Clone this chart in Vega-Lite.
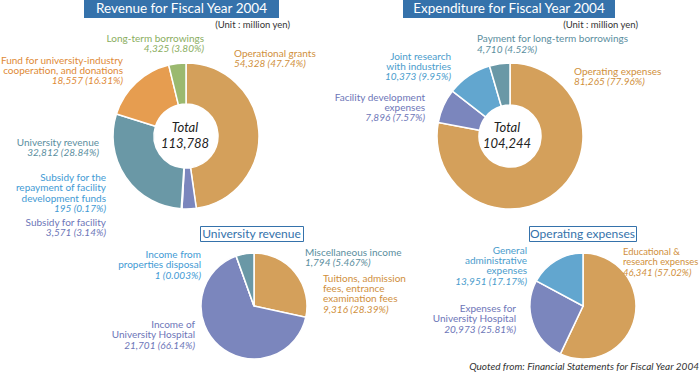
{
  "$schema": "https://vega.github.io/schema/vega-lite/v6.json",
  "padding": 0,
  "background": "white",
  "bounds": "flush",
  "spacing": 226,
  "resolve": {"scale": {"theta": "independent", "color": "independent"}},
  "config": {"view": {"stroke": null}, "font": "Lato", "text": {"font": "Lato", "fontSize": 10, "baseline": "middle"}},
  "datasets": {
    "revenue": [
      {"item": "Operational grants", "rank": 1, "value": 54328, "label": "54,328 (47.74%)"},
      {"item": "Subsidy for facility", "rank": 2, "value": 3571, "label": "3,571 (3.14%)"},
      {"item": "Subsidy for the\nrepayment of facility\ndevelopment funds", "rank": 3, "value": 195, "label": "195 (0.17%)"},
      {"item": "University revenue", "rank": 4, "value": 32812, "label": "32,812 (28.84%)"},
      {"item": "Fund for university-industry\ncooperation, and donations", "rank": 5, "value": 18557, "label": "18,557 (16.31%)"},
      {"item": "Long-term borrowings", "rank": 6, "value": 4325, "label": "4,325 (3.80%)"}
    ],
    "expenditure": [
      {"item": "Operating expenses", "rank": 1, "value": 81265, "label": "81,265 (77.96%)"},
      {"item": "Facility development\nexpenses", "rank": 2, "value": 7896, "label": "7,896 (7.57%)"},
      {"item": "Joint research\nwith industries", "rank": 3, "value": 10373, "label": "10,373 (9.95%)"},
      {"item": "Payment for long-term borrowings", "rank": 4, "value": 4710, "label": "4,710 (4.52%)"}
    ],
    "univ": [
      {"item": "Tuitions, admission\nfees, entrance\nexamination fees", "rank": 1, "value": 9316, "label": "9,316 (28.39%)"},
      {"item": "Income of\nUniversity Hospital", "rank": 2, "value": 21701, "label": "21,701 (66.14%)"},
      {"item": "Income from\nproperties disposal", "rank": 3, "value": 1, "label": "1 (0.003%)"},
      {"item": "Miscellaneous income", "rank": 4, "value": 1794, "label": "1,794 (5.467%)"}
    ],
    "opex": [
      {"item": "Educational &\nresearch expenses", "rank": 1, "value": 46341, "label": "46,341 (57.02%)"},
      {"item": "Expenses for\nUniversity Hospital", "rank": 2, "value": 20973, "label": "20,973 (25.81%)"},
      {"item": "General\nadministrative\nexpenses", "rank": 3, "value": 13951, "label": "13,951 (17.17%)"}
    ]
  },
  "vconcat": [
    {
      "vconcat": [
        {
          "concat": [
            {"width": 82, "height": 18, "data": {"values": [{}]}, "mark": {"type": "text", "text": ""}, "encoding": {}},
            {
              "width": 195, "height": 18,
              "view": {"fill": "#3572ab", "stroke": null},
              "data": {"values": [{}]},
              "layer": [
                {"mark": {"type": "text", "text": "Revenue for Fiscal Year 2004", "color": "white", "fontSize": 13.5, "align": "center"}, "encoding": {}},
                {"mark": {"type": "text", "text": "(Unit : million yen)", "color": "#333333", "fontSize": 9.5, "align": "right", "dx": 108.5, "dy": 16}, "encoding": {}}
              ]
            },
            {"width": 124, "height": 18, "data": {"values": [{}]}, "mark": {"type": "text", "text": ""}, "encoding": {}},
            {
              "width": 212, "height": 18,
              "view": {"fill": "#3572ab", "stroke": null},
              "data": {"values": [{}]},
              "layer": [
                {"mark": {"type": "text", "text": "Expenditure for Fiscal Year 2004", "color": "white", "fontSize": 13.5, "align": "center"}, "encoding": {}},
                {"mark": {"type": "text", "text": "(Unit : million yen)", "color": "#333333", "fontSize": 9.5, "align": "right", "dx": 129, "dy": 16}, "encoding": {}}
              ]
            }
          ],
          "columns": 4, "align": "each", "bounds": "flush", "spacing": 0
        },
        {
          "concat": [
            {
              "width": 368, "height": 160,
              "data": {"name": "revenue"},
              "layer": [
                {"mark": {"type": "arc", "outerRadius": 73, "innerRadius": 32, "stroke": "white", "strokeWidth": 1.5},
                 "encoding": {"theta": {"field": "value", "type": "quantitative", "stack": true}, "order": {"field": "rank", "type": "quantitative"},
                   "color": {"field": "rank", "type": "nominal", "scale": {"domain": [1, 2, 3, 4, 5, 6], "range": ["#d4a05b", "#7b86bd", "#4fa0d3", "#6a98a6", "#e69d50", "#9bb96f"]}, "legend": null}}},
                {"transform": [{"filter": "datum.rank === 1"}], "mark": {"type": "text", "align": "left", "dx": 48, "dy": -82, "color": "#d08f3c"}, "encoding": {"text": {"field": "item", "type": "nominal"}}},
                {"transform": [{"filter": "datum.rank === 1"}], "mark": {"type": "text", "align": "left", "dx": 48, "dy": -72, "fontStyle": "italic", "color": "#d08f3c"}, "encoding": {"text": {"field": "label", "type": "nominal"}}},
                {"transform": [{"filter": "datum.rank === 2"}], "mark": {"type": "text", "align": "right", "dx": -80, "dy": 87, "color": "#6d76b8"}, "encoding": {"text": {"field": "item", "type": "nominal"}}},
                {"transform": [{"filter": "datum.rank === 2"}], "mark": {"type": "text", "align": "right", "dx": -80, "dy": 97, "fontStyle": "italic", "color": "#6d76b8"}, "encoding": {"text": {"field": "label", "type": "nominal"}}},
                {"transform": [{"filter": "datum.rank === 3"}], "mark": {"type": "text", "align": "right", "dx": -80, "dy": 41.5, "lineHeight": 10.5, "lineBreak": "\n", "color": "#3f9ad4"}, "encoding": {"text": {"field": "item", "type": "nominal"}}},
                {"transform": [{"filter": "datum.rank === 3"}], "mark": {"type": "text", "align": "right", "dx": -80, "dy": 73, "fontStyle": "italic", "color": "#3f9ad4"}, "encoding": {"text": {"field": "label", "type": "nominal"}}},
                {"transform": [{"filter": "datum.rank === 4"}], "mark": {"type": "text", "align": "right", "dx": -87, "dy": 7, "color": "#5a8e9e"}, "encoding": {"text": {"field": "item", "type": "nominal"}}},
                {"transform": [{"filter": "datum.rank === 4"}], "mark": {"type": "text", "align": "right", "dx": -87, "dy": 17, "fontStyle": "italic", "color": "#5a8e9e"}, "encoding": {"text": {"field": "label", "type": "nominal"}}},
                {"transform": [{"filter": "datum.rank === 5"}], "mark": {"type": "text", "align": "right", "dx": -63, "dy": -75, "lineHeight": 10, "lineBreak": "\n", "color": "#e08a35"}, "encoding": {"text": {"field": "item", "type": "nominal"}}},
                {"transform": [{"filter": "datum.rank === 5"}], "mark": {"type": "text", "align": "right", "dx": -63, "dy": -55, "fontStyle": "italic", "color": "#e08a35"}, "encoding": {"text": {"field": "label", "type": "nominal"}}},
                {"transform": [{"filter": "datum.rank === 6"}], "mark": {"type": "text", "align": "right", "dx": 18, "dy": -97.5, "color": "#8aad5e"}, "encoding": {"text": {"field": "item", "type": "nominal"}}},
                {"transform": [{"filter": "datum.rank === 6"}], "mark": {"type": "text", "align": "right", "dx": 18, "dy": -87.5, "fontStyle": "italic", "color": "#8aad5e"}, "encoding": {"text": {"field": "label", "type": "nominal"}}},
                {"transform": [{"aggregate": [{"op": "sum", "field": "value", "as": "total"}]}],
                 "layer": [
                   {"mark": {"type": "text", "text": "Total", "dy": -8, "dx": -1, "fontSize": 13, "fontStyle": "italic", "color": "#222222"}, "encoding": {}},
                   {"mark": {"type": "text", "dy": 8, "dx": -1, "fontSize": 13, "fontStyle": "italic", "color": "#222222"}, "encoding": {"text": {"field": "total", "type": "quantitative", "format": ","}}}
                 ]}
              ]
            },
            {
              "width": 280, "height": 160,
              "data": {"name": "expenditure"},
              "layer": [
                {"mark": {"type": "arc", "outerRadius": 73, "innerRadius": 31, "stroke": "white", "strokeWidth": 1.5},
                 "encoding": {"theta": {"field": "value", "type": "quantitative", "stack": true}, "order": {"field": "rank", "type": "quantitative"},
                   "color": {"field": "rank", "type": "nominal", "scale": {"domain": [1, 2, 3, 4], "range": ["#d4a05b", "#7b86bd", "#62a6cf", "#6a98a6"]}, "legend": null}}},
                {"transform": [{"filter": "datum.rank === 1"}], "mark": {"type": "text", "align": "left", "dx": 64, "dy": -64, "color": "#d08f3c"}, "encoding": {"text": {"field": "item", "type": "nominal"}}},
                {"transform": [{"filter": "datum.rank === 1"}], "mark": {"type": "text", "align": "left", "dx": 64, "dy": -54, "fontStyle": "italic", "color": "#d08f3c"}, "encoding": {"text": {"field": "label", "type": "nominal"}}},
                {"transform": [{"filter": "datum.rank === 2"}], "mark": {"type": "text", "align": "right", "dx": -85, "dy": -38, "lineHeight": 10, "lineBreak": "\n", "color": "#6d76b8"}, "encoding": {"text": {"field": "item", "type": "nominal"}}},
                {"transform": [{"filter": "datum.rank === 2"}], "mark": {"type": "text", "align": "right", "dx": -85, "dy": -18, "fontStyle": "italic", "color": "#6d76b8"}, "encoding": {"text": {"field": "label", "type": "nominal"}}},
                {"transform": [{"filter": "datum.rank === 3"}], "mark": {"type": "text", "align": "right", "dx": -59, "dy": -79, "lineHeight": 10, "lineBreak": "\n", "color": "#4a9ccc"}, "encoding": {"text": {"field": "item", "type": "nominal"}}},
                {"transform": [{"filter": "datum.rank === 3"}], "mark": {"type": "text", "align": "right", "dx": -59, "dy": -59, "fontStyle": "italic", "color": "#4a9ccc"}, "encoding": {"text": {"field": "label", "type": "nominal"}}},
                {"transform": [{"filter": "datum.rank === 4"}], "mark": {"type": "text", "align": "left", "dx": -33, "dy": -97, "color": "#5a8e9e"}, "encoding": {"text": {"field": "item", "type": "nominal"}}},
                {"transform": [{"filter": "datum.rank === 4"}], "mark": {"type": "text", "align": "left", "dx": -33, "dy": -86, "fontStyle": "italic", "color": "#5a8e9e"}, "encoding": {"text": {"field": "label", "type": "nominal"}}},
                {"transform": [{"aggregate": [{"op": "sum", "field": "value", "as": "total"}]}],
                 "layer": [
                   {"mark": {"type": "text", "text": "Total", "dy": -8, "dx": -3, "fontSize": 13, "fontStyle": "italic", "color": "#222222"}, "encoding": {}},
                   {"mark": {"type": "text", "dy": 8, "dx": -3, "fontSize": 13, "fontStyle": "italic", "color": "#222222"}, "encoding": {"text": {"field": "total", "type": "quantitative", "format": ","}}}
                 ]}
              ]
            }
          ],
          "columns": 2, "align": "each", "bounds": "flush", "spacing": 0,
          "resolve": {"scale": {"theta": "independent", "color": "independent"}}
        }
      ],
      "bounds": "flush", "spacing": 56,
      "resolve": {"scale": {"theta": "independent", "color": "independent"}}
    },
    {
      "vconcat": [
        {
          "concat": [
            {"width": 198, "height": 15, "data": {"values": [{}]}, "mark": {"type": "text", "text": ""}, "encoding": {}},
            {
              "width": 103, "height": 15,
              "view": {"fill": "white", "stroke": "#3572ab", "strokeWidth": 1},
              "data": {"values": [{}]},
              "mark": {"type": "text", "text": "University revenue", "color": "#3572ab", "fontSize": 12, "align": "center"},
              "encoding": {}
            },
            {"width": 226, "height": 15, "data": {"values": [{}]}, "mark": {"type": "text", "text": ""}, "encoding": {}},
            {
              "width": 107, "height": 15,
              "view": {"fill": "white", "stroke": "#3572ab", "strokeWidth": 1},
              "data": {"values": [{}]},
              "mark": {"type": "text", "text": "Operating expenses", "color": "#3572ab", "fontSize": 12, "align": "center"},
              "encoding": {}
            }
          ],
          "columns": 4, "align": "each", "bounds": "flush", "spacing": 0
        },
        {
          "concat": [
            {
              "width": 504, "height": 130,
              "data": {"name": "univ"},
              "layer": [
                {"mark": {"type": "arc", "outerRadius": 53, "innerRadius": 0, "stroke": "white", "strokeWidth": 1.5},
                 "encoding": {"theta": {"field": "value", "type": "quantitative", "stack": true}, "order": {"field": "rank", "type": "quantitative"},
                   "color": {"field": "rank", "type": "nominal", "scale": {"domain": [1, 2, 3, 4], "range": ["#d4a05b", "#7b86bd", "#4fa0d3", "#6a98a6"]}, "legend": null}}},
                {"transform": [{"filter": "datum.rank === 1"}], "mark": {"type": "text", "align": "left", "dx": 69, "dy": -27, "lineHeight": 10, "lineBreak": "\n", "color": "#d08f3c"}, "encoding": {"text": {"field": "item", "type": "nominal"}}},
                {"transform": [{"filter": "datum.rank === 1"}], "mark": {"type": "text", "align": "left", "dx": 69, "dy": 3.5, "fontStyle": "italic", "color": "#d08f3c"}, "encoding": {"text": {"field": "label", "type": "nominal"}}},
                {"transform": [{"filter": "datum.rank === 2"}], "mark": {"type": "text", "align": "right", "dx": -59, "dy": 19, "lineHeight": 10, "lineBreak": "\n", "color": "#6d76b8"}, "encoding": {"text": {"field": "item", "type": "nominal"}}},
                {"transform": [{"filter": "datum.rank === 2"}], "mark": {"type": "text", "align": "right", "dx": -59, "dy": 39.5, "fontStyle": "italic", "color": "#6d76b8"}, "encoding": {"text": {"field": "label", "type": "nominal"}}},
                {"transform": [{"filter": "datum.rank === 3"}], "mark": {"type": "text", "align": "right", "dx": -53, "dy": -51, "lineHeight": 10, "lineBreak": "\n", "color": "#3f9ad4"}, "encoding": {"text": {"field": "item", "type": "nominal"}}},
                {"transform": [{"filter": "datum.rank === 3"}], "mark": {"type": "text", "align": "right", "dx": -53, "dy": -30.5, "fontStyle": "italic", "color": "#3f9ad4"}, "encoding": {"text": {"field": "label", "type": "nominal"}}},
                {"transform": [{"filter": "datum.rank === 4"}], "mark": {"type": "text", "align": "left", "dx": 51, "dy": -53, "color": "#5a8e9e"}, "encoding": {"text": {"field": "item", "type": "nominal"}}},
                {"transform": [{"filter": "datum.rank === 4"}], "mark": {"type": "text", "align": "left", "dx": 51, "dy": -43, "fontStyle": "italic", "color": "#5a8e9e"}, "encoding": {"text": {"field": "label", "type": "nominal"}}}
              ]
            },
            {
              "width": 154, "height": 130,
              "data": {"name": "opex"},
              "layer": [
                {"mark": {"type": "arc", "outerRadius": 53, "innerRadius": 0, "stroke": "white", "strokeWidth": 1.5},
                 "encoding": {"theta": {"field": "value", "type": "quantitative", "stack": true}, "order": {"field": "rank", "type": "quantitative"},
                   "color": {"field": "rank", "type": "nominal", "scale": {"domain": [1, 2, 3], "range": ["#d4a05b", "#7b86bd", "#62a6cf"]}, "legend": null}}},
                {"transform": [{"filter": "datum.rank === 1"}], "mark": {"type": "text", "align": "left", "dx": 40, "dy": -54, "fontSize": 9.4, "lineHeight": 10, "lineBreak": "\n", "color": "#d08f3c"}, "encoding": {"text": {"field": "item", "type": "nominal"}}},
                {"transform": [{"filter": "datum.rank === 1"}], "mark": {"type": "text", "align": "left", "dx": 40, "dy": -33.5, "fontSize": 9.6, "fontStyle": "italic", "color": "#d08f3c"}, "encoding": {"text": {"field": "label", "type": "nominal"}}},
                {"transform": [{"filter": "datum.rank === 2"}], "mark": {"type": "text", "align": "right", "dx": -67, "dy": 3, "lineHeight": 10, "lineBreak": "\n", "color": "#6d76b8"}, "encoding": {"text": {"field": "item", "type": "nominal"}}},
                {"transform": [{"filter": "datum.rank === 2"}], "mark": {"type": "text", "align": "right", "dx": -67, "dy": 23.5, "fontStyle": "italic", "color": "#6d76b8"}, "encoding": {"text": {"field": "label", "type": "nominal"}}},
                {"transform": [{"filter": "datum.rank === 3"}], "mark": {"type": "text", "align": "right", "dx": -56, "dy": -55, "lineHeight": 10, "lineBreak": "\n", "color": "#4a9ccc"}, "encoding": {"text": {"field": "item", "type": "nominal"}}},
                {"transform": [{"filter": "datum.rank === 3"}], "mark": {"type": "text", "align": "right", "dx": -56, "dy": -24.5, "fontStyle": "italic", "color": "#4a9ccc"}, "encoding": {"text": {"field": "label", "type": "nominal"}}},
                {"transform": [{"aggregate": [{"op": "count", "as": "n"}]}],
                 "mark": {"type": "text", "text": "Quoted from: Financial Statements for Fiscal Year 2004", "align": "right", "dx": 116, "dy": 61, "fontStyle": "italic", "color": "#333333"},
                 "encoding": {}}
              ]
            }
          ],
          "columns": 2, "align": "each", "bounds": "flush", "spacing": 0,
          "resolve": {"scale": {"theta": "independent", "color": "independent"}}
        }
      ],
      "bounds": "flush", "spacing": 15,
      "resolve": {"scale": {"theta": "independent", "color": "independent"}}
    }
  ]
}
